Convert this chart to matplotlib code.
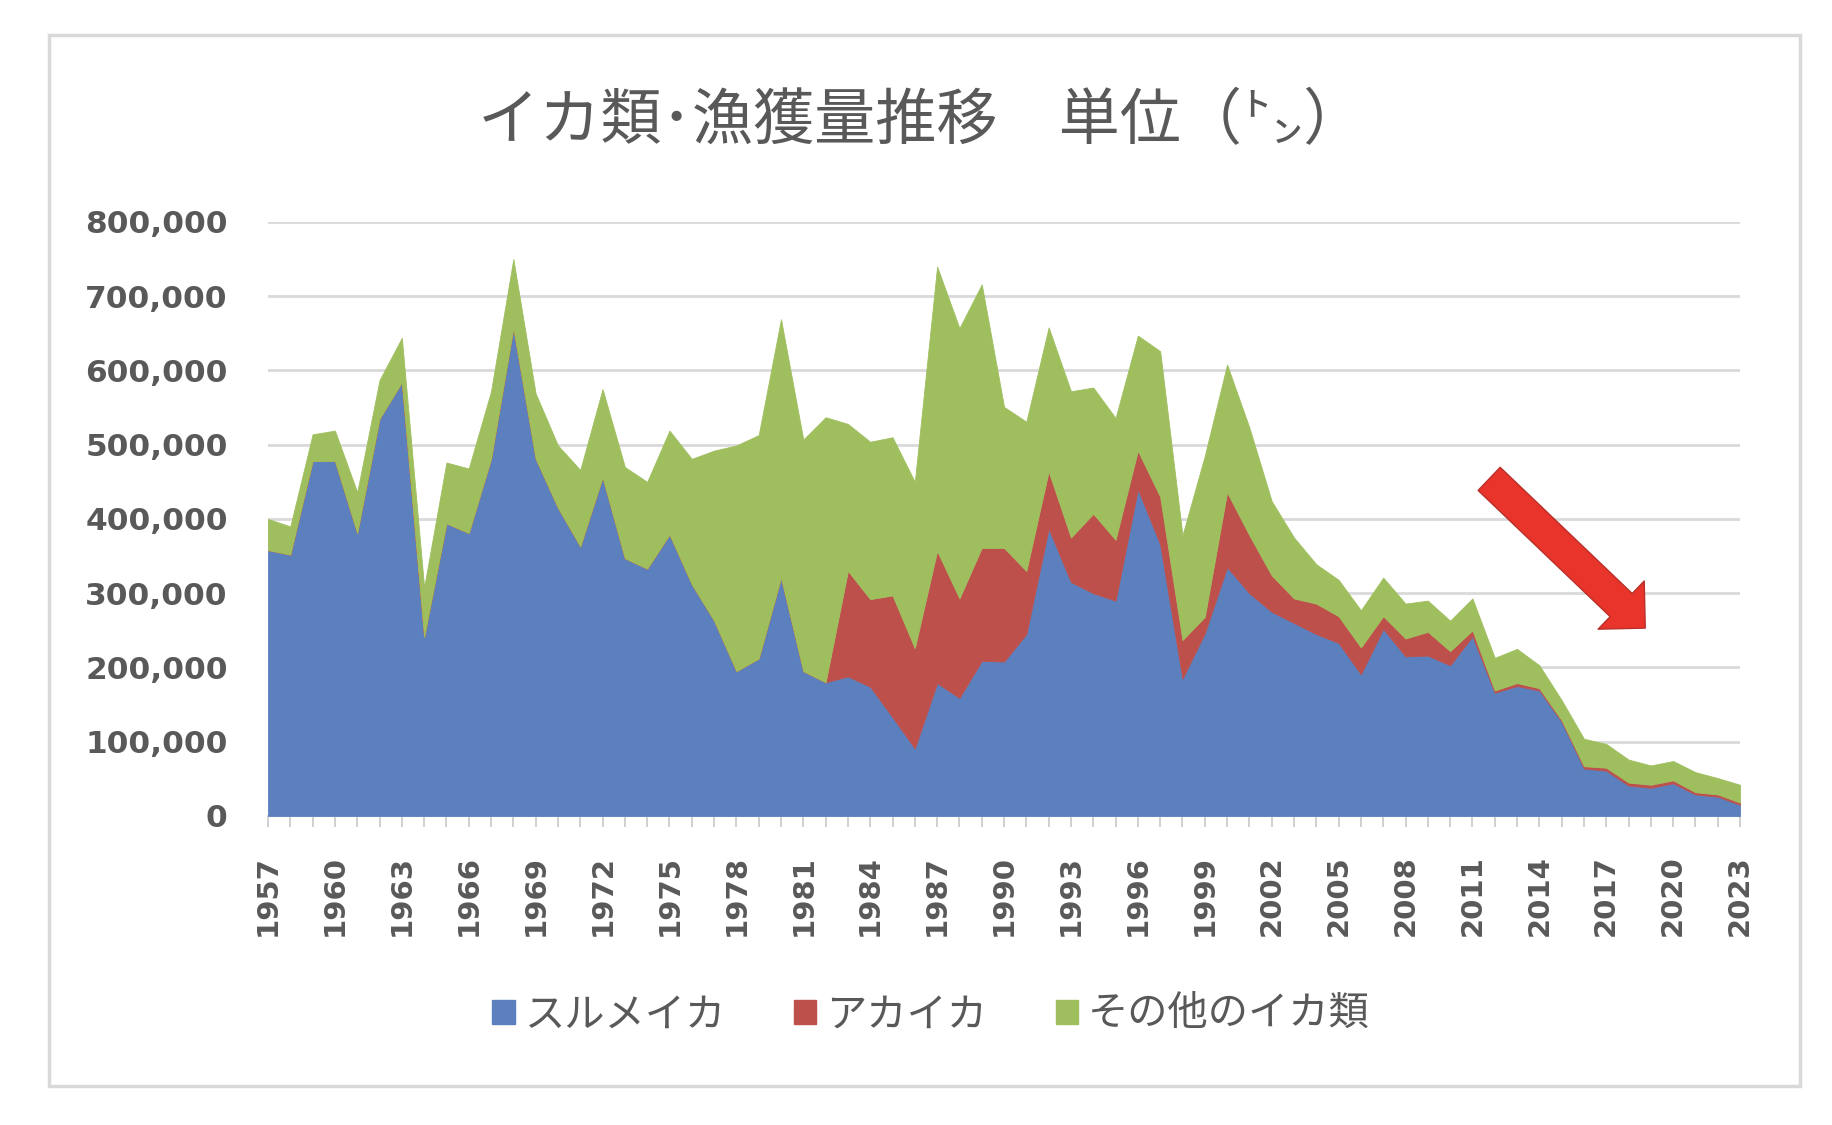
import matplotlib
matplotlib.use("Agg")
import matplotlib.pyplot as plt
from matplotlib.patches import Rectangle, FancyArrowPatch, ArrowStyle, Patch
from matplotlib.ticker import FuncFormatter
import numpy as np

# ---------------- data (tons) ----------------
years = list(range(1957, 2024))

surumeika = [358, 352, 478, 478, 381, 535, 584, 241, 394, 381,
             481, 657, 481, 415, 363, 456, 347, 333, 379, 312,
             263, 195, 212, 321, 195, 180, 188, 174, 133, 91,
             179, 159, 209, 208, 245, 387, 315, 300, 290, 440,
             366, 185, 246, 335, 300, 275, 260, 245, 233, 191,
             252, 215, 216, 203, 242, 166, 175, 169, 127, 64,
             61, 41, 38, 44, 29, 26, 15]

akaika = [0, 0, 0, 0, 0, 0, 0, 0, 0, 0,
          0, 0, 0, 0, 0, 0, 0, 0, 0, 0,
          0, 0, 0, 0, 0, 0, 142, 118, 164, 135,
          178, 134, 152, 153, 85, 77, 60, 107, 82, 52,
          64, 52, 22, 101, 78, 49, 33, 41, 36, 36,
          17, 24, 32, 19, 8, 3, 4, 3, 2, 3,
          4, 4, 4, 4, 3, 3, 3]

sonota = [42, 38, 36, 41, 55, 52, 60, 67, 82, 87,
          91, 93, 88, 84, 103, 119, 123, 117, 140, 169,
          229, 304, 301, 348, 312, 357, 198, 212, 213, 224,
          383, 364, 355, 190, 201, 194, 197, 170, 164, 155,
          196, 141, 217, 172, 145, 100, 82, 53, 49, 50,
          52, 47, 42, 41, 43, 44, 46, 31, 27, 37,
          32, 31, 26, 26, 27, 22, 24]

series_names = ["スルメイカ", "アカイカ", "その他のイカ類"]
title_text = "イカ類･漁獲量推移　単位（㌧）"
y_ticks = [0, 100000, 200000, 300000, 400000, 500000, 600000, 700000, 800000]

# ---------------- style ----------------
BLUE = "#5b80bd"
RED = "#be504c"
GREEN = "#9fbf5f"
TXT = "#595959"
GRID = "#d9d9d9"
JP = ["Noto Sans CJK JP", "DejaVu Sans"]

fig = plt.figure(figsize=(18.33, 11.25), dpi=100)
fig.patch.set_facecolor("white")

ax = fig.add_axes([0.1462, 0.2747, 0.8031, 0.528])

s1 = np.array(surumeika) * 1000
s2 = np.array(akaika) * 1000
s3 = np.array(sonota) * 1000

polys = ax.stackplot(years, s1, s2, s3, colors=[BLUE, RED, GREEN],
                     linewidth=0.6, zorder=3)
for p, c in zip(polys, [BLUE, RED, GREEN]):
    p.set_edgecolor(c)

ax.set_xlim(years[0], years[-1])
ax.set_ylim(0, 800000)
ax.set_yticks(y_ticks)
ax.yaxis.set_major_formatter(FuncFormatter(lambda v, p: f"{int(v):,}"))
ax.grid(axis="y", color=GRID, linewidth=2, zorder=0)
ax.set_axisbelow(True)

ax.set_xticks(years)
ax.set_xticklabels([str(y) if (y - 1957) % 3 == 0 else "" for y in years],
                   rotation=90)

for sp in ["top", "right", "left"]:
    ax.spines[sp].set_visible(False)
ax.spines["bottom"].set_color(GRID)
ax.spines["bottom"].set_linewidth(1.5)

ax.tick_params(axis="y", length=0, pad=29, labelsize=22.5, labelcolor=TXT)
ax.tick_params(axis="x", length=8, width=1.2, color="#c8c8c8", pad=20,
               labelsize=21, labelcolor=TXT)
for lab in ax.get_xticklabels() + ax.get_yticklabels():
    lab.set_fontweight("bold")
    lab.set_family("DejaVu Sans")

# title
fig.text(0.5025, 0.892, title_text, ha="center", va="center",
         fontsize=44, color=TXT, family=JP)

# legend
handles = [Patch(facecolor=c, edgecolor=c) for c in [BLUE, RED, GREEN]]
leg = fig.legend(handles, series_names, loc="center",
                 bbox_to_anchor=(0.508, 0.098), ncol=3, frameon=False,
                 prop={"family": JP, "size": 29},
                 handlelength=0.55, handleheight=0.55, handletextpad=0.25,
                 columnspacing=1.7)
for t in leg.get_texts():
    t.set_color(TXT)

# red arrow annotation
arrow = FancyArrowPatch((2011.75, 454000), (2018.75, 253000),
                        arrowstyle=ArrowStyle.Simple(head_length=24,
                                                     head_width=48,
                                                     tail_width=23),
                        mutation_scale=1, shrinkA=0, shrinkB=0,
                        facecolor="#e8342a", edgecolor="#b8302a",
                        linewidth=1.0, zorder=6)
ax.add_patch(arrow)

# chart border
fig.patches.append(Rectangle((0.0267, 0.0347), 0.9553, 0.9342,
                             transform=fig.transFigure, fill=False,
                             edgecolor=GRID, linewidth=2.5, zorder=0))

fig.savefig("out.png", dpi=100, facecolor="white")
